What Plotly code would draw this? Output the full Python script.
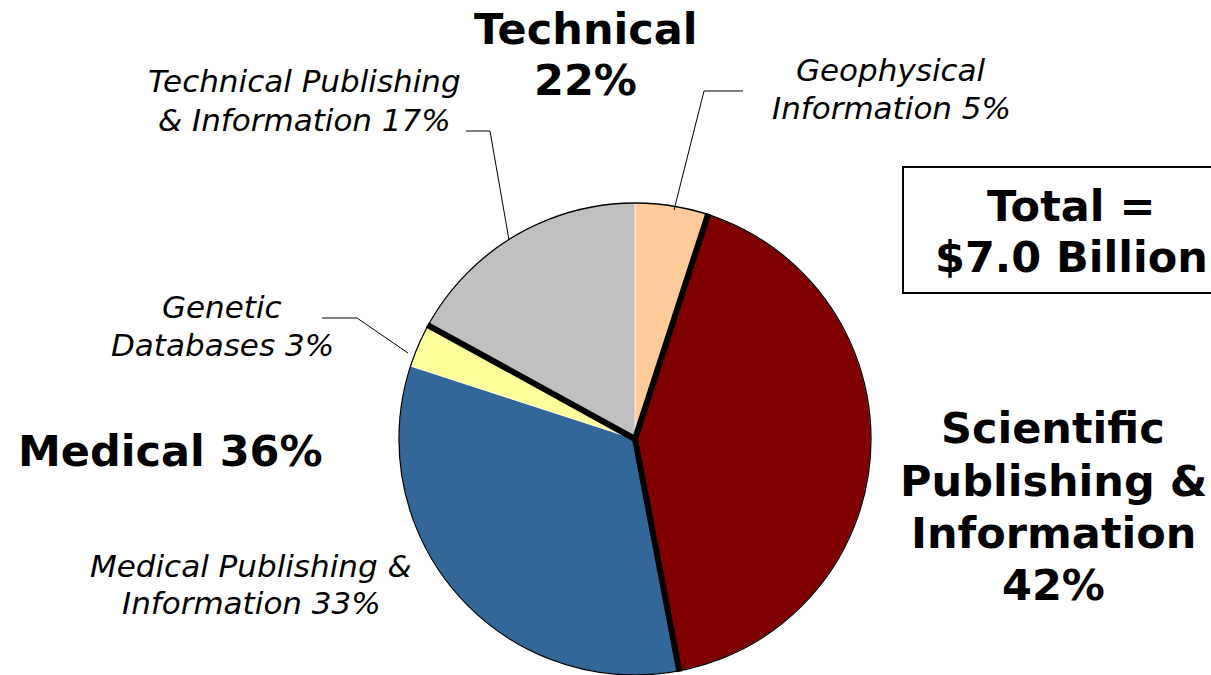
import math
import plotly.graph_objects as go

# ---------------- data ----------------
segments = ["Geophysical Information", "Scientific Publishing & Information",
            "Medical Publishing & Information", "Genetic Databases",
            "Technical Publishing & Information"]
shares = [5, 42, 33, 3, 17]
groups = ["Technical", "Scientific", "Medical", "Medical", "Technical"]
colors = ["#FFCC99", "#800000", "#336699", "#FFFF99", "#C0C0C0"]
group_names = ["Technical", "Scientific", "Medical"]
group_shares = [22, 42, 36]
total_text = "$7.0 Billion"

# ---------------- geometry (layout) ----------------
W, H = 1211, 675
CX, CY, R = 635, 439, 236
FONT = "DejaVu Sans"


def px(x):
    return x / W


def py(y):
    return 1 - y / H


dom_x = [(CX - R) / W, (CX + R) / W]
dom_y = [(H - CY - R) / H, (H - CY + R) / H]

fig = go.Figure()
fig.add_trace(go.Pie(
    labels=segments, values=shares, sort=False, direction="clockwise",
    rotation=0, marker=dict(colors=colors, line=dict(color="white", width=0.6)),
    textinfo="none", hoverinfo="label+percent", domain=dict(x=dom_x, y=dom_y),
    showlegend=False,
))
# thin outer outline
fig.add_trace(go.Pie(
    labels=["Total"], values=[sum(shares)], sort=False,
    marker=dict(colors=["rgba(0,0,0,0)"], line=dict(color="black", width=1.3)),
    textinfo="none", hoverinfo="skip", domain=dict(x=dom_x, y=dom_y),
    showlegend=False,
))

shapes = []
# thick separators at group boundaries, computed from the data
total = sum(shares)
cum = 0
for i, s in enumerate(shares):
    cum += s
    nxt = groups[(i + 1) % len(groups)]
    if nxt != groups[i]:
        th = 2 * math.pi * cum / total
        x1 = CX + (R + 1) * math.sin(th)
        y1 = CY - (R + 1) * math.cos(th)
        shapes.append(dict(type="line", xref="paper", yref="paper",
                           x0=px(CX), y0=py(CY), x1=px(x1), y1=py(y1),
                           line=dict(color="black", width=6), layer="above"))


# leader lines
def leader(pts):
    d = "M " + " L ".join(f"{px(x)},{py(y)}" for x, y in pts)
    return dict(type="path", xref="paper", yref="paper", path=d,
                line=dict(color="black", width=1), layer="above")


shapes.append(leader([(743, 91), (704, 91), (674, 210)]))
shapes.append(leader([(466, 131), (490, 131), (509, 240)]))
shapes.append(leader([(322, 318), (357, 318), (408, 353)]))

# total box
shapes.append(dict(type="rect", xref="paper", yref="paper",
                   x0=px(903), y0=py(293), x1=px(1260), y1=py(167),
                   line=dict(color="black", width=2), fillcolor="white",
                   layer="above"))

annotations = []


def ann(lines, x, ys, size, bold=False, italic=False):
    for text, y in zip(lines, ys):
        annotations.append(dict(
            text=text, x=px(x), y=py(y), xref="paper", yref="paper",
            xanchor="center", yanchor="middle", showarrow=False, align="center",
            font=dict(family=FONT, size=size, color="black",
                      weight="bold" if bold else "normal",
                      style="italic" if italic else "normal")))


gs = dict(zip(group_names, group_shares))
sh = dict(zip(segments, shares))

BOLD, ITAL = 43, 31
ann(["Technical", f"{gs['Technical']}%"], 585, [29, 80], BOLD, bold=True)
ann(["Scientific", "Publishing &", "Information", f"{gs['Scientific']}%"],
    1053, [428, 481, 533, 585], BOLD, bold=True)
ann([f"Medical {gs['Medical']}%"], 170, [451], BOLD, bold=True)
ann(["Total =", total_text], 1071, [206, 257], BOLD, bold=True)

ann(["Geophysical", f"Information {sh['Geophysical Information']}%"],
    891, [70, 108], ITAL, italic=True)
ann(["Technical Publishing",
     f"& Information {sh['Technical Publishing & Information']}%"],
    304, [81, 120], ITAL, italic=True)
ann(["Genetic", f"Databases {sh['Genetic Databases']}%"],
    222, [307, 345], ITAL, italic=True)
ann(["Medical Publishing &",
     f"Information {sh['Medical Publishing & Information']}%"],
    251, [566, 603], ITAL, italic=True)

fig.update_layout(
    width=W, height=H, margin=dict(l=0, r=0, t=0, b=0),
    paper_bgcolor="white", plot_bgcolor="white", showlegend=False,
    shapes=shapes, annotations=annotations,
)

fig.write_html("out.html",
               config={"displayModeBar": False},
               post_script="document.body.style.margin='0px';"
                           "document.body.style.overflow='hidden';")
